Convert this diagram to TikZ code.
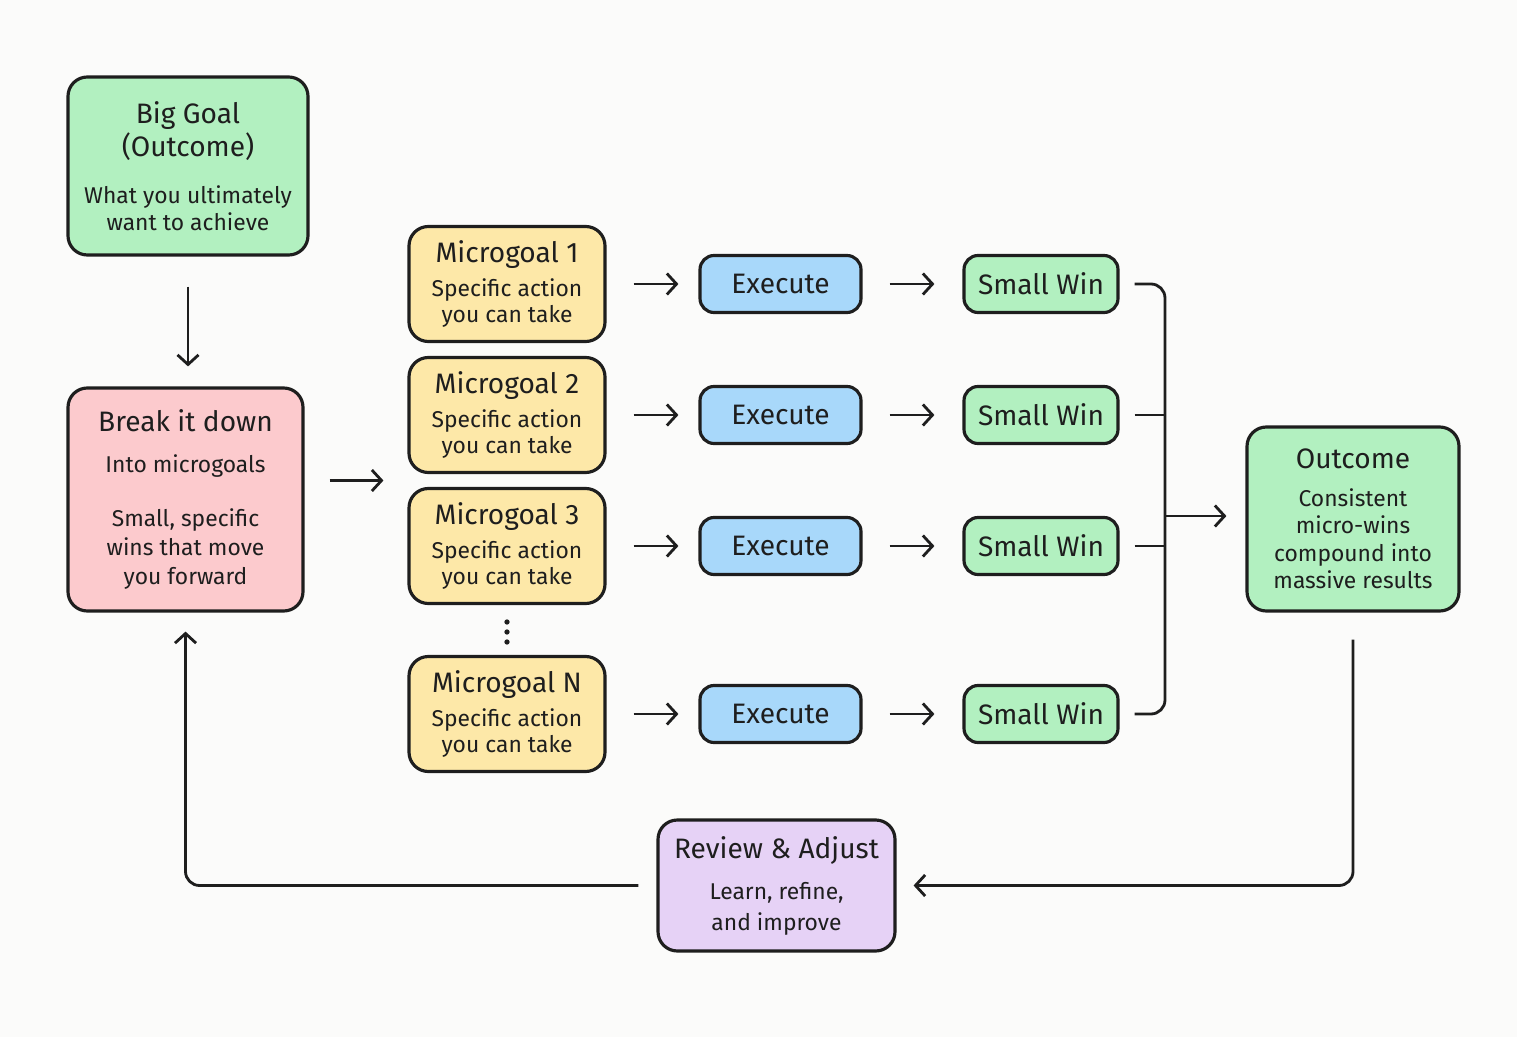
\documentclass[tikz,border=0pt]{standalone}
\usepackage{fontspec}
\setmainfont{Fira Sans}
\usepackage{tikz}
\usetikzlibrary{calc,arrows.meta}
\usetikzlibrary{positioning}
\definecolor{mg-ink}{HTML}{1E1E1E}
\definecolor{mg-paper}{HTML}{FBFBFA}
\definecolor{mg-green}{HTML}{B2F0C0}
\definecolor{mg-red}{HTML}{FCCACD}
\definecolor{mg-yellow}{HTML}{FDE8A8}
\definecolor{mg-blue}{HTML}{A8D8FA}
\definecolor{mg-purple}{HTML}{E6D2F6}
\newcommand{\mgtitle}{\fontsize{16}{21}\selectfont}
\newcommand{\mgbody}{\fontsize{13}{15.5}\selectfont}

\begin{document}
\begin{tikzpicture}[
    >={Straight Barb[length=5.5pt,width=12pt,line width=1.6pt]},
    card/.style={draw=mg-ink, line width=1.8pt, rounded corners=11pt, align=center, inner sep=2pt, font=\mgbody, text=mg-ink},
    goalbox/.style={card, fill=mg-green, minimum width=4.8cm, minimum height=3.56cm},
    microbox/.style={card, fill=mg-yellow, minimum width=3.92cm, minimum height=2.3cm},
    execbox/.style={card, fill=mg-blue, rounded corners=8pt, minimum width=3.22cm, minimum height=1.14cm, font=\mgtitle},
    winbox/.style={card, fill=mg-green, rounded corners=8pt, minimum width=3.08cm, minimum height=1.14cm, font=\mgtitle},
    conn/.style={->, draw=mg-ink, line width=1.6pt},
    link/.style={draw=mg-ink, line width=1.6pt}
]
\useasboundingbox[fill=mg-paper] (0,0) rectangle (30.34,20.74);

% =========================================================================
% COLUNA ESQUERDA: OBJETIVO E DECOMPOSICAO
% =========================================================================
\node[goalbox] (goal) at (3.76, 17.42) {{\mgtitle Big Goal}\\[1pt]{\mgtitle (Outcome)}\\[11pt]What you ultimately\\want to achieve};
\node[card, fill=mg-red, minimum width=4.7cm, minimum height=4.46cm] (break) at (3.71, 10.75) {{\mgtitle Break it down}\\[8pt]Into microgoals\\[15pt]Small, specific\\[1pt]wins that move\\[1pt]you forward};

\draw[conn, shorten <=0.6cm, shorten >=0.4cm] (goal.south) -- (goal.south |- break.north);

% =========================================================================
% MICROGOALS, EXECUCAO E PEQUENAS VITORIAS
% =========================================================================
\node[microbox] (micro1) at (10.14, 15.06) {{\mgtitle Microgoal 1}\\[4pt]Specific action\\[-0.5pt]you can take};
\node[microbox] (micro2) at (10.14, 12.44) {{\mgtitle Microgoal 2}\\[4pt]Specific action\\[-0.5pt]you can take};
\node[microbox] (micro3) at (10.14, 9.82) {{\mgtitle Microgoal 3}\\[4pt]Specific action\\[-0.5pt]you can take};
\node[microbox] (micro4) at (10.14, 6.46) {{\mgtitle Microgoal N}\\[4pt]Specific action\\[-0.5pt]you can take};

% pontos entre o 3 e o N
\coordinate (dots) at (10.14, 8.1);
\foreach \d in {-0.2, 0, 0.2}
    \fill[mg-ink] ($(dots)+(0,\d)$) circle (1.5pt);

\coordinate (split) at ($(micro2.south west)!0.5!(micro3.north west)$);
\draw[conn] ([xshift=0.5cm]break.east |- split) -- ([xshift=-0.48cm]split);

\foreach \i/\y in {1/15.06, 2/12.44, 3/9.82, 4/6.46} {
    \node[execbox] (exec\i) at (15.61, \y) {Execute};
    \node[winbox] (win\i) at (20.82, \y) {Small Win};
    \draw[conn, shorten <=0.54cm, shorten >=0.4cm] (micro\i.east) -- (exec\i.west);
    \draw[conn, shorten <=0.54cm, shorten >=0.56cm] (exec\i.east) -- (win\i.west);
}

% =========================================================================
% RESULTADO: COLCHETE QUE JUNTA AS VITORIAS
% =========================================================================
\node[goalbox, minimum width=4.24cm, minimum height=3.68cm] (outcome) at (27.06, 10.36) {{\mgtitle Outcome}\\[6pt]Consistent\\micro-wins\\compound into\\massive results};

\coordinate (bus) at (23.3, 10.42);
\draw[link, rounded corners=8pt] ([xshift=0.3cm]win1.east) -| (bus) |- ([xshift=0.3cm]win4.east);
\draw[link] ([xshift=0.3cm]win2.east) -- (win2.east -| bus);
\draw[link] ([xshift=0.3cm]win3.east) -- (win3.east -| bus);
\draw[conn, shorten >=0.38cm] (bus) -- (bus -| outcome.west);

% =========================================================================
% CICLO DE REVISAO
% =========================================================================
\node[card, fill=mg-purple, minimum width=4.74cm, minimum height=2.62cm] (review) at (15.53, 3.03) {{\mgtitle Review \& Adjust}\\[8pt]Learn, refine,\\[2pt]and improve};

\draw[conn, rounded corners=8pt] ([yshift=-0.54cm]outcome.south) |- ([xshift=0.34cm]review.east);
\draw[conn, rounded corners=8pt] ([xshift=-0.36cm]review.west) -| ([yshift=-0.38cm]break.south);

\end{tikzpicture}
\end{document}
